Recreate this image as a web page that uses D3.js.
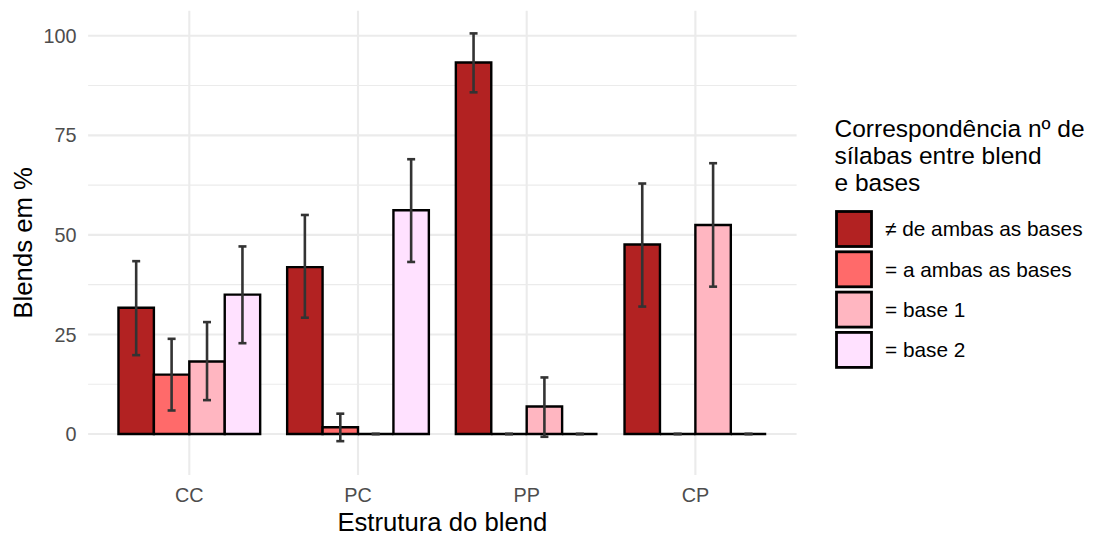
<!DOCTYPE html>
<html>
<head>
<meta charset="utf-8">
<script src="https://cdn.jsdelivr.net/npm/d3@7"></script>
<style>
  html, body { margin: 0; padding: 0; background: #ffffff; }
  svg { display: block; font-family: "Liberation Sans", Arial, sans-serif; }
</style>
</head>
<body>
<svg id="chart" width="1101" height="540"></svg>
<script>
// ---- data ----
const categories = ["CC", "PC", "PP", "CP"];
const groups = ["≠ de ambas as bases", "= a ambas as bases", "= base 1", "= base 2"];
const groupColors = ["#B22222", "#FF6A6A", "#FFB6C1", "#FFE1FF"];

const valuesDiff  = [31.7, 41.9, 93.3, 47.6];
const valuesBoth  = [14.9, 1.7, 0, 0];
const valuesBase1 = [18.2, 0, 6.9, 52.5];
const valuesBase2 = [35.0, 56.2, 0, 0];

const lowerDiff  = [19.8, 29.2, 85.8, 32.0];
const lowerBoth  = [5.9, -1.8, 0, 0];
const lowerBase1 = [8.5, 0, -0.7, 37.0];
const lowerBase2 = [22.8, 43.2, 0, 0];

const upperDiff  = [43.4, 55.0, 100.6, 62.9];
const upperBoth  = [23.9, 5.1, 0, 0];
const upperBase1 = [28.1, 0, 14.2, 68.0];
const upperBase2 = [47.1, 69.0, 0, 0];

const yTicks = [0, 25, 50, 75, 100];
const yMinorTicks = [12.5, 37.5, 62.5, 87.5];

const xTitle = "Estrutura do blend";
const yTitle = "Blends em %";
const legendTitle = ["Correspondência nº de", "sílabas entre blend", "e bases"];

// ---- build table ----
const valueSets = [valuesDiff, valuesBoth, valuesBase1, valuesBase2];
const lowerSets = [lowerDiff, lowerBoth, lowerBase1, lowerBase2];
const upperSets = [upperDiff, upperBoth, upperBase1, upperBase2];
const rows = [];
categories.forEach((c, ci) => {
  groups.forEach((g, gi) => {
    rows.push({cat: c, group: g, gi: gi, value: valueSets[gi][ci],
               lo: lowerSets[gi][ci], hi: upperSets[gi][ci]});
  });
});

// ---- layout ----
const panel = {left: 88.1, right: 796.6, top: 10.7, bottom: 475};
const svg = d3.select("#chart");

const x = d3.scalePoint().domain(categories).range([panel.left, panel.right]).padding(0.6);
const step = x.step();
const dodge = d3.scaleBand().domain(groups).range([-0.42 * step, 0.42 * step]).paddingInner(0);
const y = d3.scaleLinear().domain([-10.3, 106.3]).range([panel.bottom, panel.top]);
const color = d3.scaleOrdinal().domain(groups).range(groupColors);

// grid
const grid = svg.append("g");
grid.selectAll("line.minor").data(yMinorTicks).join("line")
  .attr("x1", panel.left).attr("x2", panel.right)
  .attr("y1", d => y(d)).attr("y2", d => y(d))
  .attr("stroke", "#EBEBEB").attr("stroke-width", 1.1);
grid.selectAll("line.major").data(yTicks).join("line")
  .attr("x1", panel.left).attr("x2", panel.right)
  .attr("y1", d => y(d)).attr("y2", d => y(d))
  .attr("stroke", "#EBEBEB").attr("stroke-width", 2.1);
grid.selectAll("line.vmajor").data(categories).join("line")
  .attr("x1", d => x(d)).attr("x2", d => x(d))
  .attr("y1", panel.top).attr("y2", panel.bottom)
  .attr("stroke", "#EBEBEB").attr("stroke-width", 2.1);

// bars (paths so zero-height bars still show their outline)
svg.append("g").selectAll("path").data(rows).join("path")
  .attr("d", d => {
    const x0 = x(d.cat) + dodge(d.group), w = dodge.bandwidth();
    const y0 = y(0), y1 = y(d.value);
    return `M${x0},${y0}L${x0},${y1}L${x0 + w},${y1}L${x0 + w},${y0}Z`;
  })
  .attr("fill", d => color(d.group))
  .attr("stroke", "#000000")
  .attr("stroke-width", 2.4)
  .attr("stroke-linejoin", "miter");

// error bars
const capHalf = 4;
const eb = svg.append("g").attr("stroke", "#333333").attr("stroke-width", 2.6).attr("fill", "none");
rows.forEach(d => {
  const cx = x(d.cat) + dodge(d.group) + dodge.bandwidth() / 2;
  eb.append("line").attr("x1", cx).attr("x2", cx).attr("y1", y(d.lo)).attr("y2", y(d.hi));
  eb.append("line").attr("x1", cx - capHalf).attr("x2", cx + capHalf).attr("y1", y(d.lo)).attr("y2", y(d.lo));
  eb.append("line").attr("x1", cx - capHalf).attr("x2", cx + capHalf).attr("y1", y(d.hi)).attr("y2", y(d.hi));
});

// y axis labels
svg.append("g").selectAll("text").data(yTicks).join("text")
  .attr("x", 76.5).attr("y", d => y(d)).attr("dy", "0.36em")
  .attr("text-anchor", "end").attr("font-size", 19.8).attr("fill", "#4D4D4D")
  .text(d => d);

// x axis labels
svg.append("g").selectAll("text").data(categories).join("text")
  .attr("x", d => x(d)).attr("y", 501.5)
  .attr("text-anchor", "middle").attr("font-size", 19.8).attr("fill", "#4D4D4D")
  .text(d => d);

// axis titles
svg.append("text").attr("x", (panel.left + panel.right) / 2).attr("y", 531)
  .attr("text-anchor", "middle").attr("font-size", 25.7).attr("fill", "#000")
  .text(xTitle);
svg.append("text")
  .attr("transform", `translate(32.3, ${(panel.top + panel.bottom) / 2}) rotate(-90)`)
  .attr("text-anchor", "middle").attr("font-size", 25.7).attr("fill", "#000")
  .text(yTitle);

// legend
const lg = svg.append("g");
lg.selectAll("text.title").data(legendTitle).join("text")
  .attr("x", 834.5).attr("y", (d, i) => 136.7 + i * 27)
  .attr("font-size", 24.5).attr("fill", "#000").text(d => d);
const keyTop = 211.5, keyStep = 40.3, keySize = 35;
lg.selectAll("rect").data(groups).join("rect")
  .attr("x", 836.5).attr("y", (d, i) => keyTop + i * keyStep)
  .attr("width", keySize).attr("height", keySize)
  .attr("fill", d => color(d)).attr("stroke", "#000").attr("stroke-width", 2.8);
lg.selectAll("text.lab").data(groups).join("text")
  .attr("x", 885).attr("y", (d, i) => keyTop + keySize / 2 + i * keyStep).attr("dy", "0.36em")
  .attr("font-size", 20.8).attr("fill", "#000").text(d => d);
</script>
</body>
</html>
